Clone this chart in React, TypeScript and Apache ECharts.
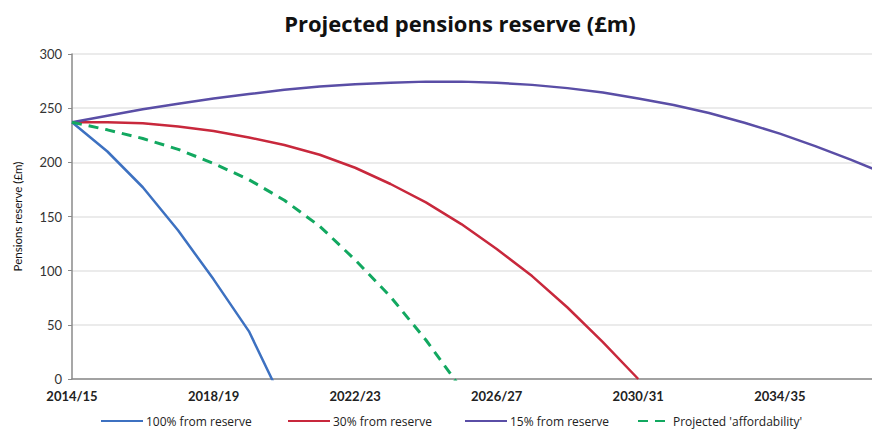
import React, { useEffect, useRef } from "react";
import * as echarts from "echarts";

const categories = [
  "2014/15", "2015/16", "2016/17", "2017/18", "2018/19", "2019/20", "2020/21", "2021/22",
  "2022/23", "2023/24", "2024/25", "2025/26", "2026/27", "2027/28", "2028/29", "2029/30",
  "2030/31", "2031/32", "2032/33", "2033/34", "2034/35", "2035/36", "2036/37", "2037/38",
];

const full100 = [237, 210, 177, 137, 92, 44, -24];
const from30 = [237, 237, 236, 233, 229, 223, 216, 207, 195, 180, 163, 143, 120, 95, 66, 34, 0];
const from15 = [237, 243, 249, 254, 259, 263, 267, 270, 272, 273.5, 274.5, 274.5, 273.5, 271.5, 268.5, 264.5, 259, 253, 245.5, 236.5, 226.5, 215, 202.5, 189];
const affordability = [237, 230, 222, 212, 199, 184, 165, 141, 110, 76, 36, -9];

const yTicks = { min: 0, max: 300, interval: 50 };

const seriesNames = ["100% from reserve", "30% from reserve", "15% from reserve", "Projected 'affordability'"];
const colors = ["#3d71c1", "#c8283c", "#5a4ea6", "#12a860"];

export default function App() {
  const ref = useRef<HTMLDivElement>(null);
  useEffect(() => {
    document.body.style.margin = "0";
    const chart = echarts.init(ref.current!, null, { renderer: "svg" });
    const font = "Lato, 'Open Sans', sans-serif";
    const legendFont = "'Open Sans', Lato, sans-serif";
    const legendLefts = [100, 287, 464, 637];
    chart.setOption({
      animation: false,
      backgroundColor: "#ffffff",
      textStyle: { fontFamily: font },
      title: {
        text: "Projected pensions reserve (£m)",
        left: 455,
        top: 7,
        textAlign: "center",
        textStyle: { fontFamily: "'Open Sans', sans-serif", fontSize: 22, fontWeight: "bold", color: "#111" },
      },
      legend: seriesNames.map((n, i) => ({
        data: [{ name: n }],
        left: legendLefts[i],
        top: 415,
        padding: 0,
        itemWidth: i === 3 ? 32 : 42,
        itemHeight: 12,
        itemGap: 0,
        itemStyle: { opacity: 0 },
        textStyle: { fontFamily: legendFont, fontSize: 12, color: "#222", padding: [0, 0, 0, -2] },
      })),
      grid: { left: 72, right: 0, top: 54, bottom: 50, containLabel: false },
      xAxis: {
        type: "category",
        data: categories,
        boundaryGap: false,
        axisLine: { lineStyle: { color: "#8a8a8a", width: 1.5 } },
        axisTick: { show: false },
        axisLabel: {
          interval: 3,
          margin: 10,
          fontFamily: font,
          fontSize: 13,
          color: "#222",
          fontWeight: "bold",
        },
        splitLine: { show: false },
      },
      yAxis: {
        type: "value",
        min: yTicks.min,
        max: yTicks.max,
        interval: yTicks.interval,
        name: "Pensions reserve (£m)",
        nameLocation: "middle",
        nameRotate: 90,
        nameGap: 49,
        nameTextStyle: { fontFamily: font, fontSize: 11.5, color: "#111" },
        axisLine: { show: true, lineStyle: { color: "#8a8a8a", width: 1.5 } },
        axisTick: { show: true, length: 4, lineStyle: { color: "#8a8a8a" } },
        axisLabel: { margin: 10, fontFamily: font, fontSize: 13, color: "#333" },
        splitLine: { lineStyle: { color: "#e4e4e4", width: 1.5 } },
      },
      series: [
        { name: seriesNames[0], data: full100, color: colors[0] },
        { name: seriesNames[1], data: from30, color: colors[1] },
        { name: seriesNames[2], data: from15, color: colors[2] },
        { name: seriesNames[3], data: affordability, color: colors[3], dashed: true },
      ].map((s) => ({
        type: "line",
        name: s.name,
        data: s.data,
        showSymbol: false,
        symbol: "none",
        smooth: false,
        clip: true,
        itemStyle: { color: s.color },
        lineStyle: {
          color: s.color,
          width: s.dashed ? 3 : 2.5,
          type: s.dashed ? [10, 7] : "solid",
        },
      })),
    });
    return () => chart.dispose();
  }, []);
  return (
    <div
      style={{ position: "fixed", left: 0, top: 0, width: 872, height: 429, overflow: "hidden", background: "#fff" }}
    >
      <div ref={ref} style={{ width: 886, height: 429 }} />
    </div>
  );
}
